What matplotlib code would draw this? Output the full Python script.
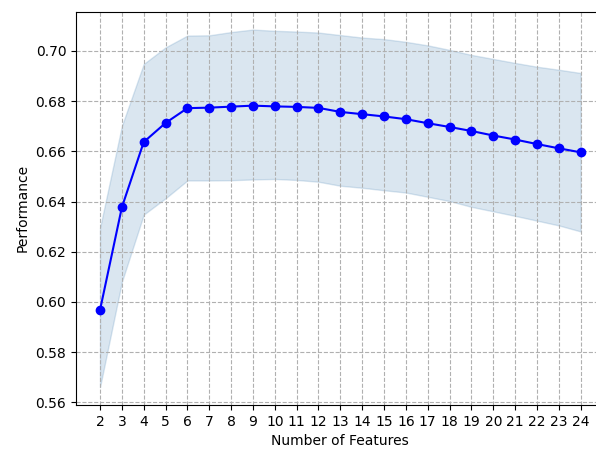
import matplotlib
matplotlib.use("Agg")
import matplotlib.pyplot as plt

n_features = list(range(2, 25))
mean_perf = [0.5968, 0.6377, 0.6637, 0.6713, 0.6772, 0.6774, 0.6778, 0.6782,
             0.6779, 0.6777, 0.6773, 0.6757, 0.6748, 0.6739, 0.6728, 0.6712,
             0.6697, 0.6681, 0.6663, 0.6647, 0.6629, 0.6612, 0.6596]
upper = [0.6295, 0.6701, 0.6948, 0.7014, 0.7061, 0.7062, 0.7075, 0.7085,
         0.7080, 0.7077, 0.7073, 0.7063, 0.7053, 0.7047, 0.7036, 0.7022,
         0.7004, 0.6984, 0.6968, 0.6952, 0.6937, 0.6925, 0.6912]
lower = [0.5661, 0.6080, 0.6348, 0.6413, 0.6484, 0.6484, 0.6485, 0.6488,
         0.6490, 0.6486, 0.6479, 0.6463, 0.6455, 0.6445, 0.6436, 0.6419,
         0.6402, 0.6379, 0.6361, 0.6343, 0.6324, 0.6305, 0.6281]

fig, ax = plt.subplots(figsize=(5.96, 4.49), dpi=100)
ax.fill_between(n_features, lower, upper, color="steelblue", alpha=0.2)
ax.plot(n_features, mean_perf, "o-", color="blue")
ax.set_xticks(n_features)
ax.set_xlabel("Number of Features")
ax.set_ylabel("Performance")
ax.grid(True, linestyle="--")
# reference image is cropped on the right, so the axes run past the edge
fig.subplots_adjust(left=0.1275, right=1.0146, top=0.974, bottom=0.098)
fig.savefig("out.png")
